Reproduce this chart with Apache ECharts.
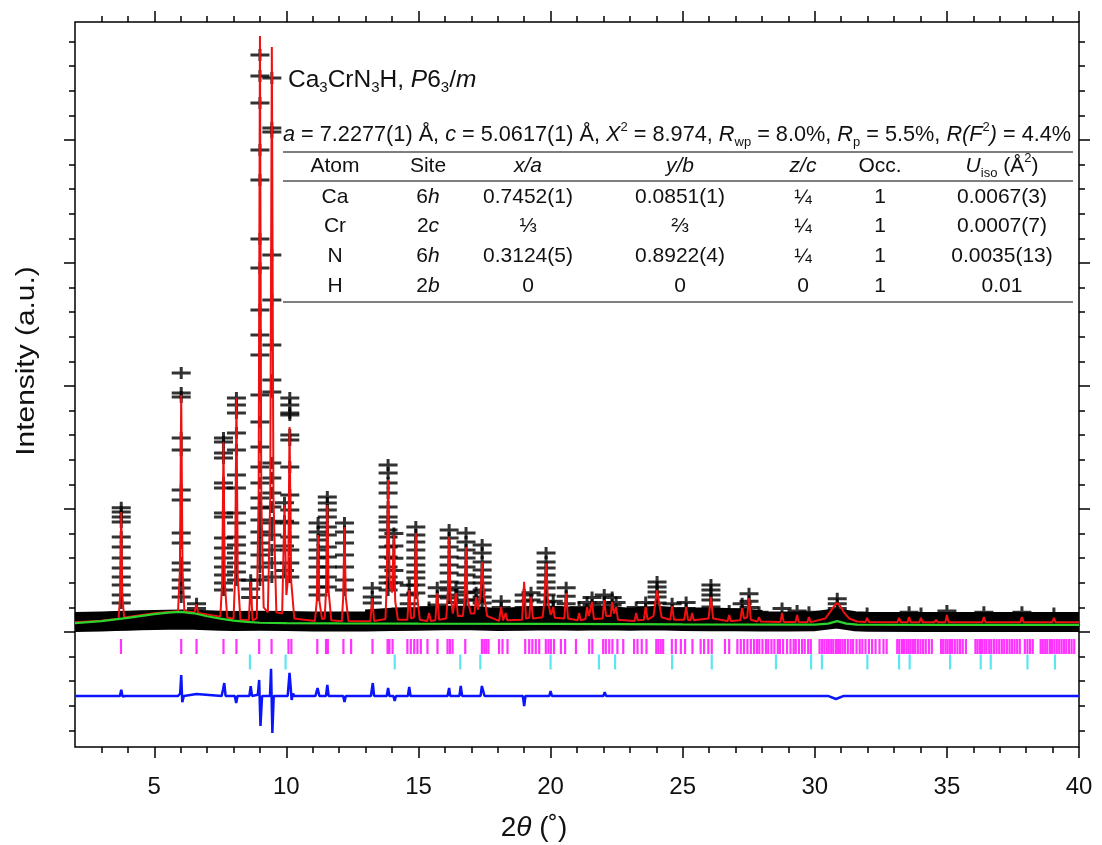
<!DOCTYPE html>
<html><head><meta charset="utf-8">
<script src="https://cdn.jsdelivr.net/npm/echarts@6.0.0/dist/echarts.min.js"></script>
<style>html,body{margin:0;padding:0;background:#fff}#c{width:1102px;height:845px}</style>
</head><body><div id="c"></div>
<script>
// ---------------- DATA ----------------
const xTickMajor = [5,10,15,20,25,30,35,40];
const xTickMinor = [3,4,6,7,8,9,11,12,13,14,16,17,18,19,21,22,23,24,26,27,28,29,31,32,33,34,36,37,38,39];
const yTickMajor = [0,1000,2000,3000,4000];
const yTickMinor = [-800,-600,-400,-200,200,400,600,800,1200,1400,1600,1800,2200,2400,2600,2800,3200,3400,3600,3800,4200,4400,4600,4800];

// observed: dense background band (2theta, intensity)
const obsBand = [[2,82],[2.5,84],[3,86],[3.5,90],[4,92],[4.5,95],[5,98],[5.5,100],[6,102],[6.5,100],[7,95],[7.5,92],[8,90],[9,92],[10,90],[11,86],[12,86],[13,86],[14,90],[15,92],[16,95],[17,95],[18,90],[19,92],[20,95],[21,92],[22,95],[23,92],[24,95],[25,90],[26,88],[27,88],[28,85],[29,85],[30,88],[30.8,110],[31.5,88],[32,84],[34,82],[36,82],[38,82],[40,82]];
// observed: denser part of the band over the crowded 13-28 degree range
const obsBandDense = [[13,110],[14,125],[15,130],[16,140],[17,140],[18,120],[19,135],[20,140],[21,130],[22,140],[23,125],[24,140],[25,125],[26,125],[27,120],[28,105]];

// observed: crosses stacked on the peaks [2theta, [intensities]]
const obsStacks = [
 [3.75,[1010,976,935,894,772,691,602,520,447,382,301,236]],
 [6.02,[2106,1943,1911,1577,1480,1154,1073,805,724,561,504,423,358,285]],
 [6.6,[230,190]],
 [7.62,[1577,1545,1455,1415,1211,1171,967,935,764,683,602,528,463,398,341]],
 [8.11,[1902,1846,1780,1618,1480,1276,1171,967,886,772,707,642,561,488,423]],
 [8.65,[420,350,280]],
 [9.0,[4691,4520,4301,3919,3675,3195,2959,2618,2415,2252,1927,1707,1504,1341,1211,1089,1008,911,813,724,626,528,423]],
 [9.45,[4504,4098,4065,3065,2699,2333,2049,1951,1374,1252,1130,1016,886,789,667,561,447]],
 [9.93,[1050,900,700,500]],
 [10.13,[1902,1846,1780,1764,1602,1561,1341,1114,992,886,772,667,561,447]],
 [11.2,[886,813,748,667,602,528,447,366,301]],
 [11.55,[1098,1049,992,935,854,789,691,610,528,447,366]],
 [12.2,[886,813,724,626,528,423,341]],
 [13.25,[358,285,236]],
 [13.85,[1358,1293,1211,1130,1016,935,894,829,772,691,610,528,447,398,341]],
 [14.07,[800,700,600,500,400]],
 [14.65,[380,300,230]],
 [14.9,[854,789,732,667,602,545,488,439,382,317]],
 [15.4,[200,150]],
 [15.71,[360,290,220]],
 [16.16,[829,764,691,610,545,480,407,341,276]],
 [16.42,[360,300,240]],
 [16.8,[805,732,667,602,528,463,398,325,260]],
 [17.18,[320,260]],
 [17.41,[707,642,569,504,447,398,341,285,236]],
 [18.13,[250,200]],
 [19.0,[300,250,200]],
 [19.26,[320,260]],
 [19.83,[642,569,520,463,407,358,301,244]],
 [20.1,[250,200]],
 [20.59,[360,290,230]],
 [21.08,[200]],
 [21.38,[240]],
 [21.57,[280,220]],
 [22.03,[300,240]],
 [22.33,[280,220]],
 [22.48,[240]],
 [23.24,[200]],
 [23.6,[240,190]],
 [24.03,[407,366,325,285,236,179]],
 [24.6,[230,180]],
 [25.13,[240,190]],
 [26.07,[382,341,301,260,203]],
 [26.76,[170]],
 [27.25,[230,180]],
 [27.51,[310,250,200]],
 [27.89,[160]],
 [28.76,[190]],
 [29.33,[170]],
 [29.78,[160]],
 [30.85,[270,230,190]],
 [31.98,[150]],
 [33.57,[160]],
 [34.02,[150]],
 [35.0,[170]],
 [36.4,[160]],
 [37.84,[160]],
 [39.05,[150]]
];

// calculated profile (2theta, intensity)
const calcCurve = [
[2,80],[3,92],[3.65,108],[3.71,300],[3.75,976],[3.79,300],[3.86,118],
[5,152],[5.9,168],[5.97,500],[6.02,1927],[6.07,500],[6.14,170],
[6.52,158],[6.59,225],[6.66,155],
[7.5,125],[7.57,400],[7.62,1545],[7.67,400],[7.76,118],
[8.0,108],[8.06,450],[8.11,1902],[8.16,450],[8.26,100],
[8.58,95],[8.65,407],[8.72,95],
[8.88,110],[8.95,1100],[9.0,4845],[9.05,1100],[9.14,200],
[9.3,160],[9.39,1100],[9.45,4756],[9.51,1100],[9.62,160],
[9.84,150],[9.93,1033],[10.0,300],[10.07,450],[10.12,1667],[10.18,420],[10.3,110],
[11.08,90],[11.15,250],[11.2,789],[11.25,250],[11.35,105],
[11.45,110],[11.5,330],[11.55,1033],[11.6,330],[11.7,95],
[12.1,88],[12.15,280],[12.2,854],[12.25,280],[12.35,90],
[13.18,88],[13.25,276],[13.32,90],
[13.75,105],[13.8,400],[13.85,1236],[13.91,420],[14.0,320],[14.07,789],[14.12,250],[14.22,100],
[14.58,100],[14.65,341],[14.72,110],[14.83,120],[14.86,300],[14.9,805],[14.95,300],[15.05,100],
[15.33,90],[15.4,154],[15.47,90],[15.64,95],[15.71,317],[15.78,100],
[16.05,110],[16.11,300],[16.16,772],[16.21,300],[16.3,150],[16.36,150],[16.42,317],[16.49,130],
[16.68,130],[16.75,280],[16.8,691],[16.85,280],[16.98,150],[17.12,150],[17.18,285],[17.25,180],[17.35,300],[17.41,569],[17.48,300],[17.6,130],
[18.05,90],[18.13,203],[18.2,95],[18.25,100],[18.3,154],[18.36,95],
[18.92,100],[19.0,407],[19.07,110],[19.19,115],[19.26,285],[19.33,110],
[19.7,120],[19.77,260],[19.83,561],[19.9,260],[20.0,140],[20.05,160],[20.1,203],[20.16,115],
[20.52,110],[20.59,317],[20.66,110],[21.02,95],[21.08,154],[21.14,95],
[21.32,105],[21.38,203],[21.45,130],[21.51,140],[21.57,244],[21.64,105],
[21.97,110],[22.03,260],[22.1,130],[22.27,130],[22.33,244],[22.4,150],[22.48,203],[22.55,100],
[23.18,90],[23.24,154],[23.3,95],[23.53,100],[23.6,203],[23.67,100],
[23.9,130],[23.97,250],[24.03,341],[24.1,250],[24.2,120],
[24.53,100],[24.6,210],[24.67,100],[25.06,100],[25.13,203],[25.2,100],[25.3,95],[25.36,154],[25.42,95],
[25.98,110],[26.07,285],[26.15,110],[26.7,90],[26.76,138],[26.82,90],
[27.18,95],[27.25,195],[27.32,110],[27.44,120],[27.51,276],[27.58,100],[27.83,85],[27.89,122],[27.95,85],
[28.7,82],[28.76,154],[28.82,82],[29.27,82],[29.33,138],[29.39,82],[29.72,80],[29.78,122],[29.84,80],
[30.4,110],[30.6,170],[30.75,215],[30.85,236],[30.95,215],[31.1,160],[31.3,110],[31.6,85],
[31.92,82],[31.98,114],[32.04,82],
[33.13,80],[33.19,114],[33.25,80],[33.51,80],[33.57,122],[33.63,80],[33.96,80],[34.02,114],[34.08,80],
[34.53,80],[34.59,98],[34.65,80],[34.94,80],[35.0,138],[35.06,80],
[36.34,80],[36.4,122],[36.46,80],[37.78,80],[37.84,122],[37.9,80],[38.99,80],[39.05,114],[39.11,80],[40,80]
];

// background (2theta, intensity)
const bgCurve = [[2,72],[3,88],[4,115],[5,145],[5.5,158],[6,163],[6.5,152],[7,128],[7.5,108],[8,92],[8.5,82],[9,75],[10,72],[12,70],[15,68],[20,66],[25,62],[30,60],[30.5,68],[30.85,88],[31.2,68],[31.6,60],[35,58],[40,58]];

// difference curve (2theta, intensity)
const diffCurve = [[2,-520],[3.7,-520],[3.75,-470],[3.8,-525],[3.9,-520],[5.9,-520],[5.98,-500],[6.02,-350],[6.06,-570],[6.12,-520],[6.6,-505],[6.65,-520],[7.55,-520],[7.6,-470],[7.65,-415],[7.7,-520],[8.05,-520],[8.1,-577],[8.15,-520],[8.6,-520],[8.65,-440],[8.7,-520],[8.92,-510],[8.97,-390],[9.02,-764],[9.08,-520],[9.38,-520],[9.42,-300],[9.47,-821],[9.52,-520],[10.05,-520],[10.12,-333],[10.2,-553],[10.25,-500],[10.3,-520],[11.1,-520],[11.18,-455],[11.25,-520],[11.5,-520],[11.55,-431],[11.6,-520],[12.15,-520],[12.2,-569],[12.25,-520],[13.2,-520],[13.27,-415],[13.32,-520],[13.8,-520],[13.85,-455],[13.9,-520],[14.05,-520],[14.1,-560],[14.15,-520],[14.6,-520],[14.65,-447],[14.7,-520],[16.1,-520],[16.16,-455],[16.2,-520],[16.55,-520],[16.6,-439],[16.65,-520],[17.35,-520],[17.4,-439],[17.45,-450],[17.5,-520],[18.95,-520],[19.0,-602],[19.05,-520],[19.95,-520],[20.0,-480],[20.05,-520],[22.0,-520],[22.05,-490],[22.1,-520],[30.5,-520],[30.8,-545],[31.1,-520],[40,-520]];

// reflection positions (2theta)
const phase1Refl = [3.74,6.02,6.6,7.62,8.11,8.97,9.44,10.08,10.19,11.17,11.5,11.57,12.16,12.45,13.26,13.83,13.9,14.02,14.58,14.71,14.84,14.96,15.09,15.34,15.72,16.1,16.19,16.29,16.77,17.4,17.49,17.57,17.65,18.05,18.18,18.37,19.04,19.19,19.31,19.44,19.57,19.82,19.92,20.01,20.13,20.39,20.55,20.96,21.46,21.58,21.99,22.09,22.22,22.34,22.53,22.75,23.16,23.29,23.45,23.63,24.0,24.08,24.17,24.26,24.59,24.74,24.93,25.09,25.37,25.68,25.81,25.97,26.1,26.6,26.76,27.07,27.2,27.32,27.45,
27.58,27.7,27.81,27.9,28.02,28.15,28.24,28.36,28.47,28.6,28.68,28.8,28.95,29.08,29.2,29.28,29.4,29.52,29.62,29.75,29.85,
30.18,30.27,30.36,30.45,30.53,30.62,30.7,30.8,30.88,30.96,31.05,31.14,31.25,31.36,31.45,31.58,31.7,31.8,31.92,32.05,32.17,32.3,32.45,32.6,32.72,
33.12,33.2,33.3,33.38,33.47,33.55,33.63,33.72,33.8,33.9,34.0,34.1,34.2,34.32,34.43,
34.78,34.86,34.95,35.03,35.12,35.2,35.3,35.4,35.5,35.6,35.72,
36.08,36.16,36.25,36.33,36.42,36.5,36.6,36.68,36.78,36.88,36.98,37.08,37.17,37.27,37.37,37.46,37.56,37.66,37.76,
37.95,38.05,38.15,38.25,
38.55,38.63,38.72,38.8,38.9,38.98,39.07,39.16,39.25,39.34,39.43,39.52,39.62,39.72,39.82];
const phase2Refl = [8.62,9.97,14.1,16.58,17.34,20.0,21.83,22.44,24.6,26.1,28.53,29.86,30.27,31.99,33.19,33.59,35.12,36.28,36.66,38.05,39.09];

// texts
const titleText = '{t|Ca}{ts|3}{t|CrN}{ts|3}{t|H, }{ti|P}{t|6}{ts|3}{t|/}{ti|m}';
const paramText = '{p|a}{q| = 7.2277(1) Å, }{p|c}{q| = 5.0617(1) Å, }{p|X}{sup|2}{q| = 8.974, }{p|R}{sub|wp}{q| = 8.0%, }{p|R}{sub|p}{q| = 5.5%, }{p|R(F}{sup|2}{p|)}{q| = 4.4%}';
const tableHeader = ['Atom','Site','{i|x/a}','{i|y/b}','{i|z/c}','Occ.','{i|U}{sub|iso}{n| (Å}{sup|2}{n|)}'];
const tableRows = [
 ['Ca','6{i|h}','0.7452(1)','0.0851(1)','¼','1','0.0067(3)'],
 ['Cr','2{i|c}','⅓','⅔','¼','1','0.0007(7)'],
 ['N','6{i|h}','0.3124(5)','0.8922(4)','¼','1','0.0035(13)'],
 ['H','2{i|b}','0','0','0','1','0.01']
];
const xTitle = '{n|2}{i|θ}{n| (˚)}';
const yTitle = 'Intensity (a.u.)';

// ---------------- CHART ----------------
const FF = "'Liberation Sans', Arial, Helvetica, sans-serif";
const chart = echarts.init(document.getElementById('c'), null, {renderer:'canvas'});

const Y_MIN = -935, Y_MAX = 4959;
const ROW_P1 = -118, ROW_P2 = -244;

function xAx(pos, vals, len, labels){
  return {type:'value', position:pos, min:2, max:40, gridIndex:0,
    axisLine:{show:false, onZero:false}, splitLine:{show:false},
    axisTick:{show:true, inside:false, length:len, customValues:vals, lineStyle:{color:'#000', width:1.5}},
    axisLabel: labels ? {show:true, customValues:vals, fontSize:24, color:'#111', fontFamily:FF, margin:28} : {show:false}
  };
}
function yAx(pos, vals, len){
  return {type:'value', position:pos, min:Y_MIN, max:Y_MAX, gridIndex:0,
    axisLine:{show:false, onZero:false}, splitLine:{show:false},
    axisTick:{show:true, inside:false, length:len, customValues:vals, lineStyle:{color:'#000', width:1.5}},
    axisLabel:{show:false}
  };
}

const obsPts = [];
obsStacks.forEach(s => s[1].forEach(v => obsPts.push([s[0], v])));

const tRich = {
  n:{fontSize:21, fontFamily:FF, lineHeight:28},
  i:{fontSize:21, fontFamily:FF, fontStyle:'italic', lineHeight:28},
  p:{fontSize:21.7, fontFamily:FF, fontStyle:'italic', lineHeight:28},
  q:{fontSize:21.7, fontFamily:FF, lineHeight:28},
  sub:{fontSize:13, fontFamily:FF, lineHeight:12, verticalAlign:'bottom'},
  sup:{fontSize:13, fontFamily:FF, lineHeight:16, verticalAlign:'top'},
  t:{fontSize:24.5, fontFamily:FF, lineHeight:30},
  ti:{fontSize:24.5, fontFamily:FF, fontStyle:'italic', lineHeight:30},
  ts:{fontSize:15, fontFamily:FF, lineHeight:12, verticalAlign:'bottom'}
};
function txt(s, x, y, align){
  return {type:'text', x:x, y:y, z:100, silent:true,
    style:{text:s, rich:tRich, fontSize:21, fontFamily:FF, lineHeight:28, fill:'#111', align:align, verticalAlign:'middle'}};
}

const colX = [335,428,528,680,803,880,1002];
const rowY = [197,226,256,286];
const graphics = [];
graphics.push(txt(titleText, 288, 80, 'left'));
graphics.push(txt(paramText, 283, 135, 'left'));
tableHeader.forEach((h,j)=>graphics.push(txt(h, colX[j], 166, 'center')));
tableRows.forEach((r,i)=>r.forEach((c,j)=>graphics.push(txt(c, colX[j], rowY[i], 'center'))));
[152,181,302].forEach(y=>graphics.push({type:'line', z:100, silent:true, shape:{x1:283,y1:y,x2:1073,y2:y}, style:{stroke:'#555', lineWidth:1.5}}));
graphics.push({type:'text', x:27, y:361, rotation:Math.PI/2, scaleX:1.15, z:100, silent:true,
  style:{text:yTitle, fontSize:26, fontFamily:FF, fill:'#111', align:'center', verticalAlign:'middle'}});
graphics.push({type:'text', x:534, y:828, z:100, silent:true,
  style:{text:xTitle, rich:{n:{fontSize:28, fontFamily:FF}, i:{fontSize:28, fontFamily:FF, fontStyle:'italic'}}, fontSize:28, fontFamily:FF, fill:'#111', align:'center', verticalAlign:'middle'}});

const crossPath = 'path://M0,4.5H19V7.5H0Z M8,0H11V12H8Z';

chart.setOption({
  animation:false,
  backgroundColor:'#fff',
  grid:{left:75, right:23, top:22, bottom:98, show:true, borderColor:'#000', borderWidth:1.5, backgroundColor:'transparent'},
  xAxis:[xAx('bottom', xTickMajor, 11, true), xAx('bottom', xTickMinor, 6, false), xAx('top', xTickMajor, 11, false), xAx('top', xTickMinor, 6, false)],
  yAxis:[yAx('left', yTickMajor, 11), yAx('left', yTickMinor, 6), yAx('right', yTickMajor, 11), yAx('right', yTickMinor, 6)],
  graphic:graphics,
  series:[
    {type:'line', data:obsBand, symbol:'none', silent:true, z:1, lineStyle:{color:'#000', width:20, join:'round', cap:'butt'}},
    {type:'line', data:obsBandDense, symbol:'none', silent:true, z:1, lineStyle:{color:'#000', width:18, join:'round', cap:'butt'}},
    {type:'scatter', data:obsPts, symbol:crossPath, symbolSize:[19,12], silent:true, z:2, itemStyle:{color:'#000'}},
    {type:'line', data:calcCurve, symbol:'none', silent:true, z:3, lineStyle:{color:'#f01010', width:2}},
    {type:'line', data:bgCurve, symbol:'none', silent:true, z:4, lineStyle:{color:'#2ad42a', width:2.2}},
    {type:'scatter', data:phase1Refl.map(x=>[x, ROW_P1]), symbol:'rect', symbolSize:[2.2,15], silent:true, z:3, itemStyle:{color:'#ff00ff'}},
    {type:'scatter', data:phase2Refl.map(x=>[x, ROW_P2]), symbol:'rect', symbolSize:[2.2,15], silent:true, z:3, itemStyle:{color:'#33e0ee'}},
    {type:'line', data:diffCurve, symbol:'none', silent:true, z:3, lineStyle:{color:'#0a14ff', width:2.5}}
  ]
});
</script>
</body></html>
